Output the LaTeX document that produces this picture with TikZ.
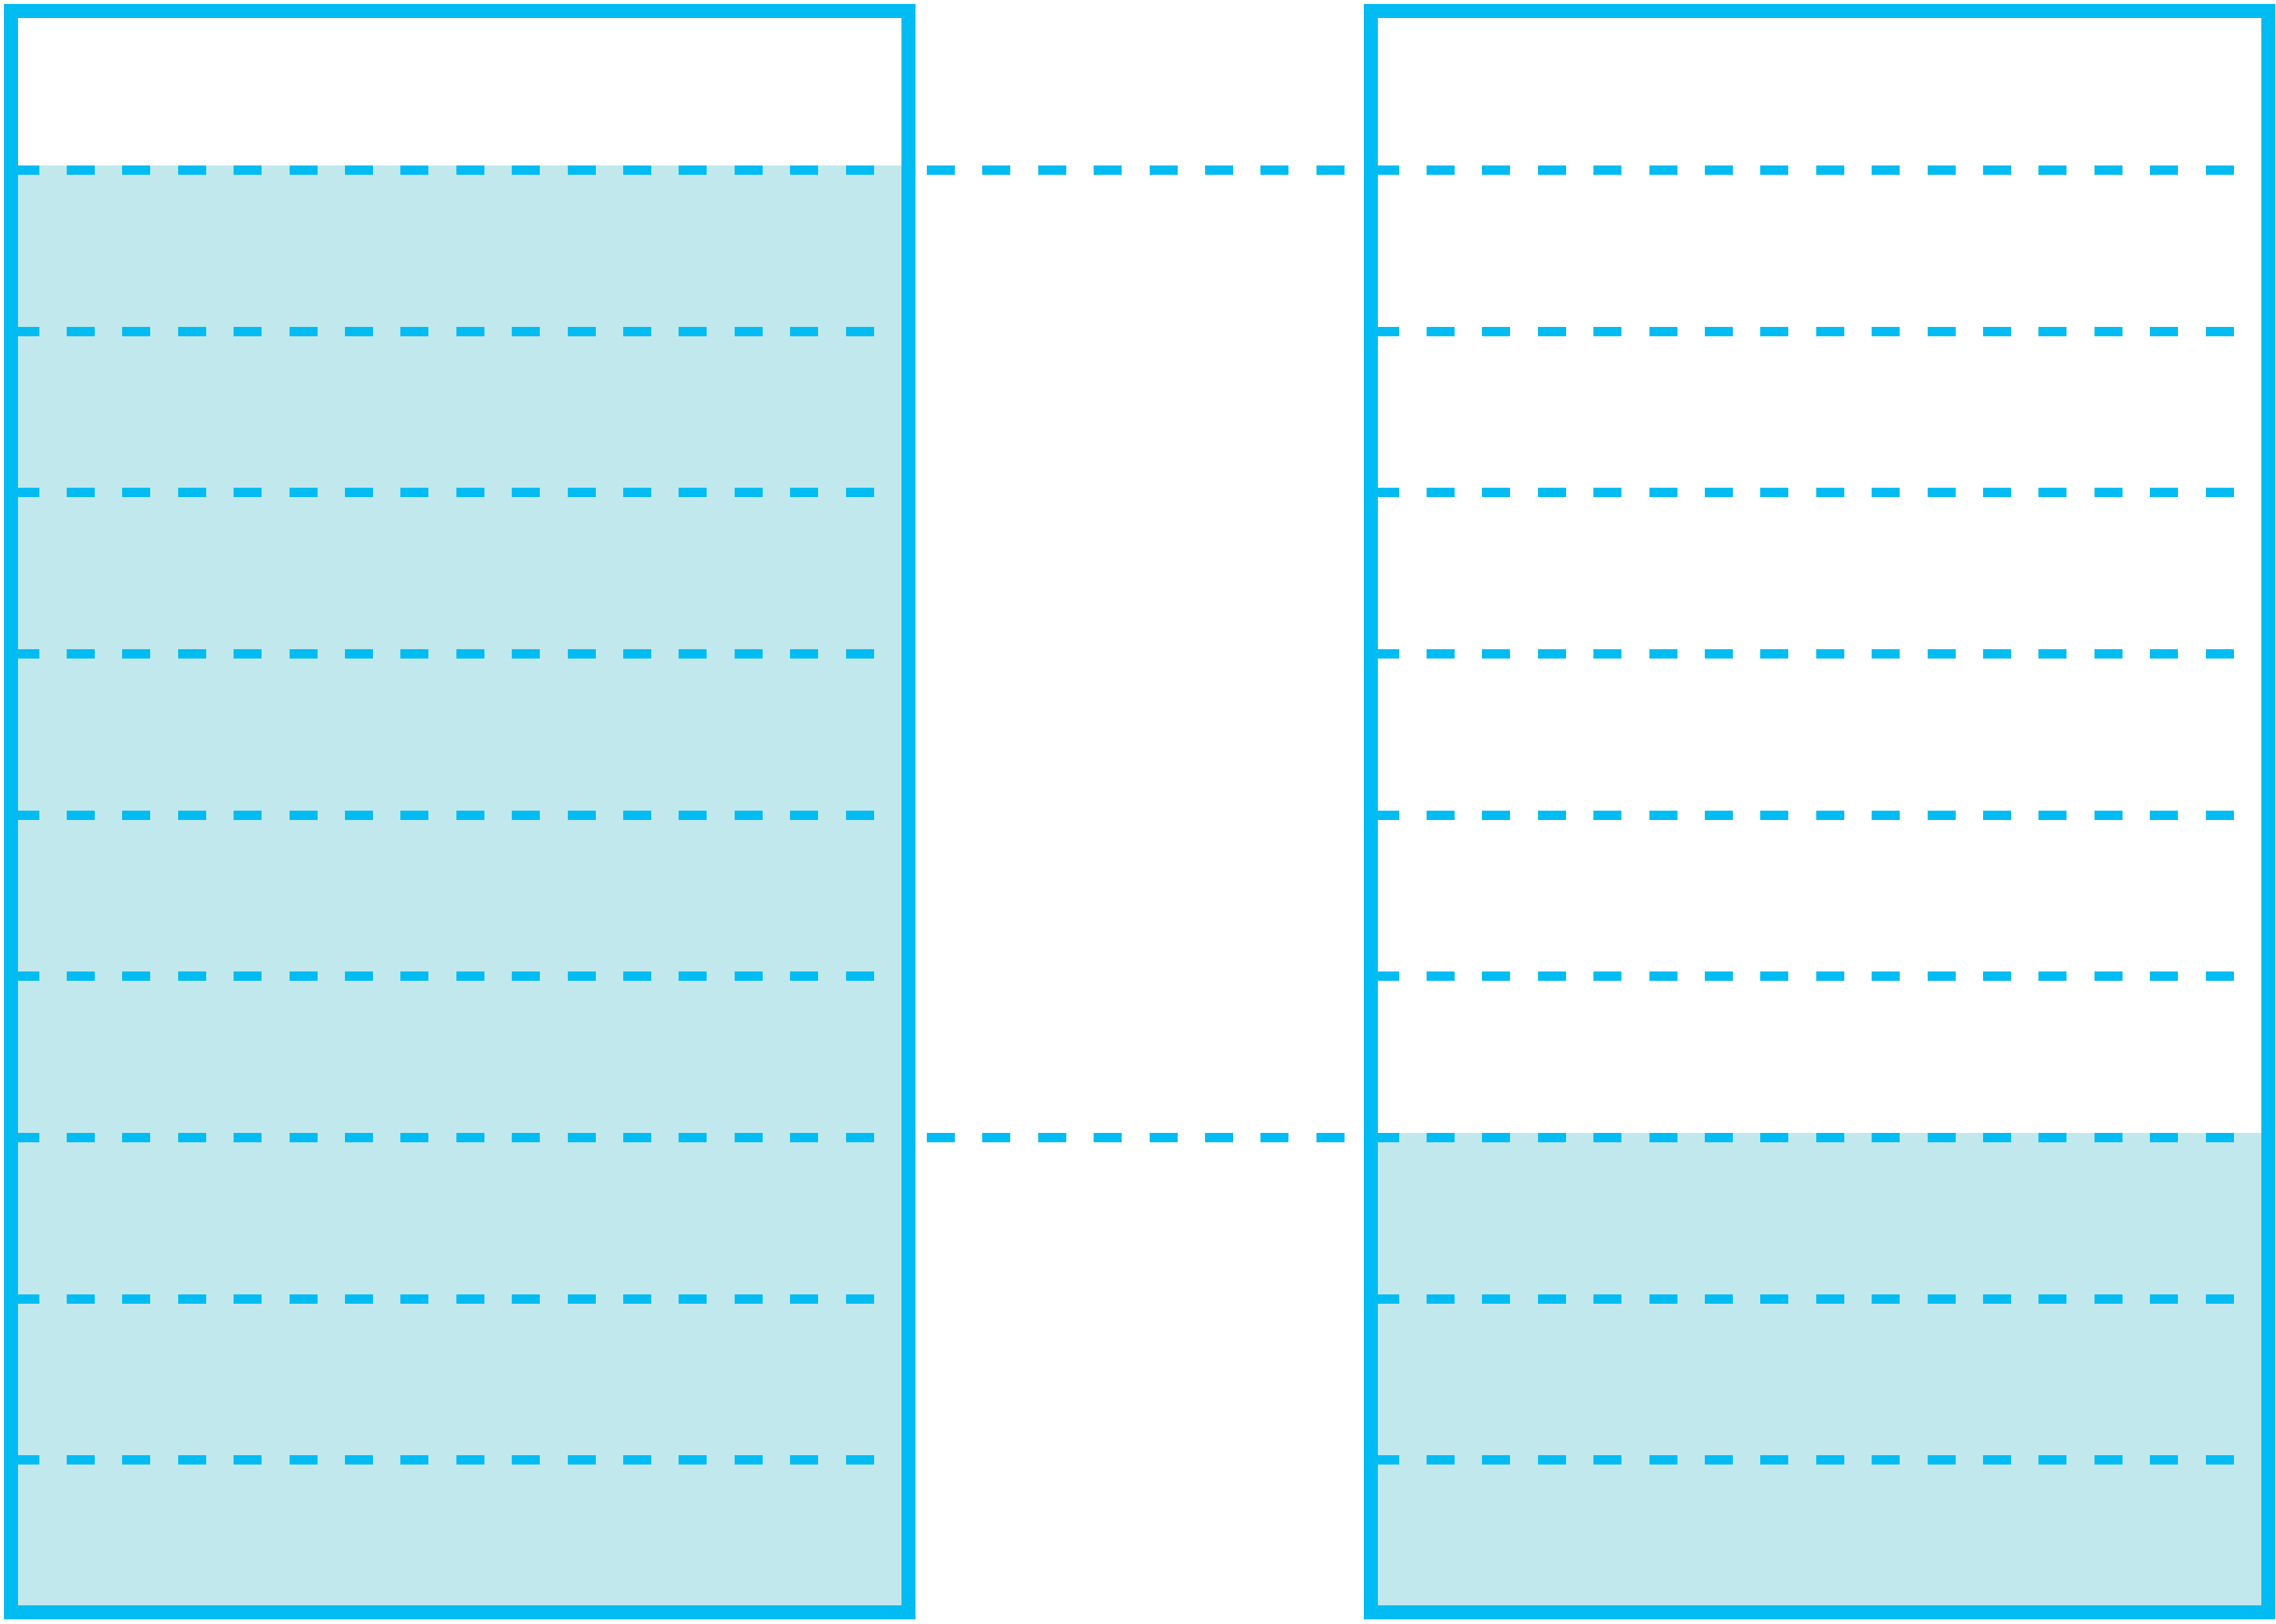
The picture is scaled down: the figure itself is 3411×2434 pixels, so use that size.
\documentclass[tikz,border=0pt]{standalone}
\definecolor{cyanline}{RGB}{0,188,242}
\definecolor{water}{RGB}{193,232,236}
\begin{document}
\begin{tikzpicture}[x=0.01cm,y=-0.01cm,
  tank/.style={draw=cyanline,line width=0.21cm,rectangle,inner sep=0pt,outer sep=0pt,anchor=north west},
  level/.style={draw=cyanline,line width=0.14cm,dash pattern=on 0.42cm off 0.4136cm},
  waterfill/.style={fill=water}]
\useasboundingbox (0,0) rectangle (3411,2434);
% water
\fill[waterfill] (16.5,248) rectangle (1361,2415.5);
\fill[waterfill] (2054.5,1698) rectangle (3398.5,2415.5);
% level lines
\foreach \k in {0,...,8} {
  \pgfmathsetmacro\yy{255+241.67*\k}
  \coordinate (la\k) at (16.5,\yy);
  \coordinate (lb\k) at (1361,\yy);
  \coordinate (ra\k) at (2054.5,\yy);
  \coordinate (rb\k) at (3398.5,\yy);
  \draw[level] (la\k) -- (lb\k);
  \draw[level] (ra\k) -- (rb\k);
}
% connectors between tanks
\coordinate (t1) at (1389,255);
\coordinate (t2) at (2014.5,255);
\coordinate (b1) at (1389,1705);
\coordinate (b2) at (2014.5,1705);
\draw[level] (t1) -- (t2);
\draw[level] (b1) -- (b2);
% tanks
\node[tank,minimum width=13.445cm,minimum height=23.99cm] (L) at (16.5,16.5) {};
\node[tank,minimum width=13.44cm,minimum height=23.99cm] (R) at (2054.5,16.5) {};
\end{tikzpicture}
\end{document}
